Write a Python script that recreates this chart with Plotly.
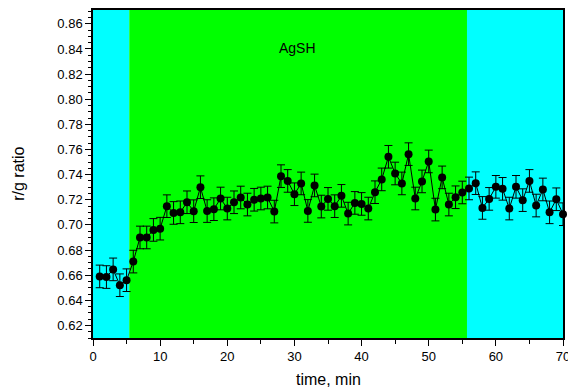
import plotly.graph_objects as go

# time (min)
time_min = list(range(1, 71))
# r/g ratio values
ratio = [
    0.659, 0.6585, 0.6646, 0.652, 0.656, 0.6708, 0.690, 0.690, 0.696, 0.697,
    0.7149, 0.7095, 0.710, 0.718, 0.7109, 0.730, 0.711, 0.7125, 0.721, 0.713,
    0.718, 0.7218, 0.7162, 0.720, 0.721, 0.7218, 0.7106, 0.7388, 0.735, 0.7244,
    0.733, 0.7111, 0.7314, 0.7146, 0.7207, 0.7149, 0.7231, 0.709, 0.7175, 0.7167,
    0.713, 0.726, 0.7362, 0.7542, 0.7409, 0.733, 0.7563, 0.721, 0.7346, 0.7505,
    0.7122, 0.7378, 0.7162, 0.722, 0.7258, 0.729, 0.7332, 0.7135, 0.7207, 0.7303,
    0.7287, 0.713, 0.7303, 0.7197, 0.735, 0.7154, 0.7282, 0.710, 0.7204, 0.7085,
]
# error bar half-widths
ratio_err = [0.009] * 70

# phase boundaries (min)
phase_starts = [0, 5.4, 55.7]
phase_ends = [5.4, 55.7, 70]
phase_colors = ["#00FFFF", "#00FF00", "#00FFFF"]
phase_label = "AgSH"
phase_label_pos = (30.4, 0.841)

x_ticks = [0, 10, 20, 30, 40, 50, 60, 70]
y_ticks = [0.62, 0.64, 0.66, 0.68, 0.70, 0.72, 0.74, 0.76, 0.78, 0.80, 0.82, 0.84, 0.86]

x_title = "time, min"
y_title = "r/g ratio"

FONT = "Liberation Sans, Arial, sans-serif"

fig = go.Figure()

for x0, x1, c in zip(phase_starts, phase_ends, phase_colors):
    fig.add_shape(type="rect", xref="x", yref="paper", x0=x0, x1=x1, y0=0, y1=1,
                  fillcolor=c, line=dict(width=0), layer="below")

fig.add_trace(go.Scatter(
    x=time_min, y=ratio,
    mode="lines+markers",
    line=dict(color="black", width=1),
    marker=dict(color="black", size=8),
    error_y=dict(type="data", array=ratio_err, visible=True,
                 color="black", thickness=1, width=4),
    showlegend=False,
    cliponaxis=False,
))

fig.add_annotation(x=phase_label_pos[0], y=phase_label_pos[1], text=phase_label,
                   showarrow=False, font=dict(family=FONT, size=14, color="black"))

# axis titles
fig.add_annotation(xref="paper", yref="paper", x=0.5, y=-0.128, text=x_title,
                   showarrow=False, xanchor="center", yanchor="middle",
                   font=dict(family=FONT, size=16, color="black"))
fig.add_annotation(xref="paper", yref="paper", x=-0.16, y=0.5, text=y_title,
                   showarrow=False, xanchor="center", yanchor="middle", textangle=-90,
                   font=dict(family=FONT, size=16, color="black"))

fig.update_layout(
    width=568, height=389,
    margin=dict(l=93, r=5, t=10, b=51, autoexpand=False),
    paper_bgcolor="white", plot_bgcolor="white",
    font=dict(family=FONT, size=13, color="black"),
)

fig.update_xaxes(
    range=[0, 70], tickvals=x_ticks, ticktext=[str(v) for v in x_ticks],
    showgrid=False, zeroline=False, automargin=False, ticklabeloverflow="allow",
    showline=True, linecolor="black", linewidth=1.5, mirror=True,
    ticks="outside", ticklen=6, tickwidth=1, tickcolor="black",
    minor=dict(dtick=5, tick0=0, ticks="outside", ticklen=4, tickcolor="black", showgrid=False),
    tickfont=dict(size=13, family=FONT),
)
fig.update_yaxes(
    range=[0.61, 0.871], tickvals=y_ticks, ticktext=[f"{v:.2f}" for v in y_ticks],
    showgrid=False, zeroline=False, automargin=False,
    showline=True, linecolor="black", linewidth=1.5, mirror=True,
    ticks="outside", ticklen=6, tickwidth=1, tickcolor="black",
    minor=dict(dtick=0.005, tick0=0.61, ticks="outside", ticklen=3, tickcolor="black", showgrid=False),
    tickfont=dict(size=13, family=FONT),
)

fig.write_html("out.html", config={"displayModeBar": False},
               post_script="document.body.style.margin='0';document.body.style.padding='0';")
